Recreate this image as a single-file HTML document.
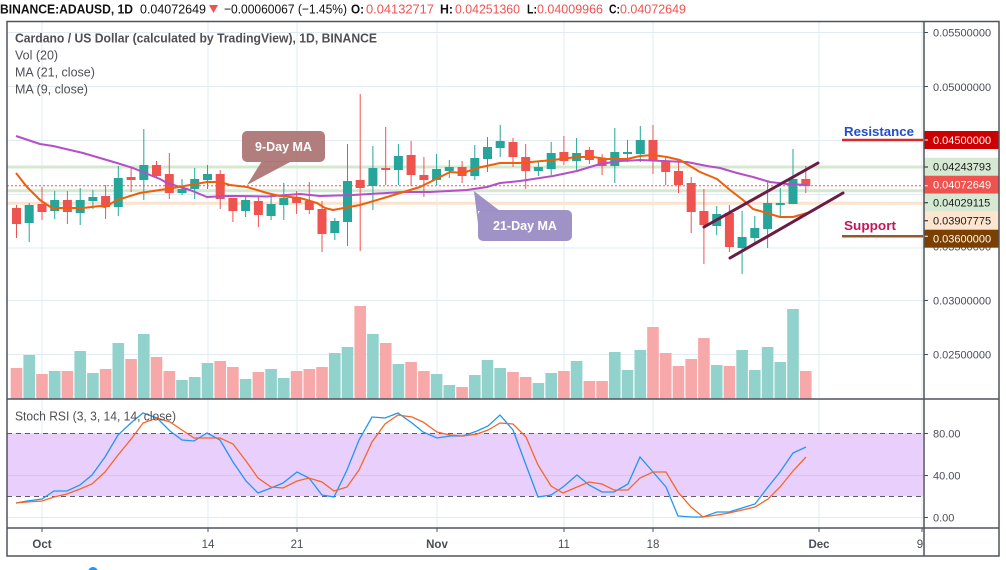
<!DOCTYPE html>
<html><head><meta charset="utf-8"><style>
html,body{margin:0;padding:0;background:#fff;}
svg{display:block;}
</style></head><body>
<svg width="1006" height="570" viewBox="0 0 1006 570" xmlns="http://www.w3.org/2000/svg" font-family="'Liberation Sans', sans-serif">
<rect width="1006" height="570" fill="#fff"/>

<!-- grid -->
<g stroke="#e2ebf2" stroke-width="1" fill="none">
<path d="M7 32.5H924M7 86.5H924M7 140.5H924M7 194.5H924M7 248H924M7 300.5H924M7 354.5H924M7 475.5H924M7 517.5H924"/>
<path d="M42 22V528M208 22V528M297 22V528M437 22V528M564 22V528M653 22V528M819 22V528M922 22V528"/>
</g>

<!-- stoch band -->
<rect x="7" y="433.3" width="916" height="63" fill="#e9cffc"/>
<path d="M7 475.5H923" stroke="#dcc0f2" stroke-width="1"/>
<g stroke="#5d5a6a" stroke-width="1" stroke-dasharray="5,4">
<path d="M7 433.5H923M7 496.5H923"/>
</g>

<!-- level lines -->
<path d="M7 167H924" stroke="#d5e8d0" stroke-width="3"/>
<path d="M7 190.7H924" stroke="#d5e8d0" stroke-width="3"/>
<path d="M7 203.3H924" stroke="#fbe3cf" stroke-width="3"/>
<path d="M7 185.7H924" stroke="#ef5350" stroke-width="1" stroke-dasharray="2,2"/>

<!-- volume -->
<g fill="#f6a9a8">
<rect x="10.7" y="368" width="11.6" height="31"/>
<rect x="36.2" y="374" width="11.6" height="25"/>
<rect x="61.6" y="371" width="11.6" height="28"/>
<rect x="99.8" y="369" width="11.6" height="30"/>
<rect x="125.3" y="359" width="11.6" height="40"/>
<rect x="150.7" y="357" width="11.6" height="42"/>
<rect x="163.5" y="371" width="11.6" height="28"/>
<rect x="214.4" y="361" width="11.6" height="38"/>
<rect x="227.1" y="367" width="11.6" height="32"/>
<rect x="252.6" y="372" width="11.6" height="27"/>
<rect x="290.8" y="371" width="11.6" height="28"/>
<rect x="303.5" y="369" width="11.6" height="30"/>
<rect x="316.2" y="367" width="11.6" height="32"/>
<rect x="354.4" y="306" width="11.6" height="93"/>
<rect x="379.9" y="343" width="11.6" height="56"/>
<rect x="405.3" y="362" width="11.6" height="37"/>
<rect x="418.1" y="371" width="11.6" height="28"/>
<rect x="456.3" y="387" width="11.6" height="12"/>
<rect x="507.2" y="372" width="11.6" height="27"/>
<rect x="519.9" y="377" width="11.6" height="22"/>
<rect x="558.1" y="371" width="11.6" height="28"/>
<rect x="583.6" y="381" width="11.6" height="18"/>
<rect x="596.3" y="381" width="11.6" height="18"/>
<rect x="647.2" y="327" width="11.6" height="72"/>
<rect x="659.9" y="353" width="11.6" height="46"/>
<rect x="672.7" y="366" width="11.6" height="33"/>
<rect x="685.4" y="359" width="11.6" height="40"/>
<rect x="698.1" y="338" width="11.6" height="61"/>
<rect x="723.6" y="366" width="11.6" height="33"/>
<rect x="800.0" y="371" width="11.6" height="28"/>
</g>
<g fill="#92d2cc">
<rect x="23.4" y="355" width="11.6" height="44"/>
<rect x="48.9" y="371" width="11.6" height="28"/>
<rect x="74.4" y="351" width="11.6" height="48"/>
<rect x="87.1" y="373" width="11.6" height="26"/>
<rect x="112.5" y="343" width="11.6" height="56"/>
<rect x="138.0" y="334" width="11.6" height="65"/>
<rect x="176.2" y="380" width="11.6" height="19"/>
<rect x="188.9" y="377" width="11.6" height="22"/>
<rect x="201.7" y="363" width="11.6" height="36"/>
<rect x="239.8" y="379" width="11.6" height="20"/>
<rect x="265.3" y="369" width="11.6" height="30"/>
<rect x="278.0" y="378" width="11.6" height="21"/>
<rect x="329.0" y="353" width="11.6" height="46"/>
<rect x="341.7" y="347" width="11.6" height="52"/>
<rect x="367.1" y="334" width="11.6" height="65"/>
<rect x="392.6" y="364" width="11.6" height="35"/>
<rect x="430.8" y="374" width="11.6" height="25"/>
<rect x="443.5" y="385" width="11.6" height="14"/>
<rect x="469.0" y="375" width="11.6" height="24"/>
<rect x="481.7" y="360" width="11.6" height="39"/>
<rect x="494.4" y="368" width="11.6" height="31"/>
<rect x="532.6" y="383" width="11.6" height="16"/>
<rect x="545.4" y="373" width="11.6" height="26"/>
<rect x="570.8" y="361" width="11.6" height="38"/>
<rect x="609.0" y="352" width="11.6" height="47"/>
<rect x="621.7" y="370" width="11.6" height="29"/>
<rect x="634.5" y="350" width="11.6" height="49"/>
<rect x="710.9" y="365" width="11.6" height="34"/>
<rect x="736.3" y="350" width="11.6" height="49"/>
<rect x="749.0" y="370" width="11.6" height="29"/>
<rect x="761.8" y="347" width="11.6" height="52"/>
<rect x="774.5" y="362" width="11.6" height="37"/>
<rect x="787.2" y="309" width="11.6" height="90"/>
</g>

<!-- candles red -->
<path stroke="#ef5350" stroke-width="1" fill="none" d="M16.5 205V238M42 187V220M67.4 191V224M105.6 185V219M131.1 167V192M156.5 161V178M169.3 153V199M220.2 170V209M232.9 198V222M258.4 197V227M296.6 191V214M309.3 182V214M322 201V252M360.2 94V251M385.7 127V185M411.1 141V186M423.9 157V197M462.1 161V183M513 138V167M525.7 144V189M563.9 136V165M589.4 147V164M602.1 154V175M653 125V174M665.7 157V185M678.5 162V193M691.2 177V233M703.9 189V264M729.4 205V252M805.8 166V193"/>
<g fill="#ef5350">
<rect x="12" y="208" width="9" height="16"/>
<rect x="37.5" y="204" width="9" height="8"/>
<rect x="62.9" y="200" width="9" height="12"/>
<rect x="101.1" y="196" width="9" height="11"/>
<rect x="126.6" y="177" width="9" height="3"/>
<rect x="152" y="165" width="9" height="11"/>
<rect x="164.8" y="174" width="9" height="19"/>
<rect x="215.7" y="174" width="9" height="25"/>
<rect x="228.4" y="198" width="9" height="13"/>
<rect x="253.9" y="201" width="9" height="14"/>
<rect x="292.1" y="198" width="9" height="5"/>
<rect x="304.8" y="201" width="9" height="9"/>
<rect x="317.5" y="209" width="9" height="25"/>
<rect x="355.7" y="180" width="9" height="8"/>
<rect x="381.2" y="168" width="9" height="2"/>
<rect x="406.6" y="155" width="9" height="20"/>
<rect x="419.4" y="175" width="9" height="5"/>
<rect x="457.6" y="167" width="9" height="9"/>
<rect x="508.5" y="142" width="9" height="15"/>
<rect x="521.2" y="157" width="9" height="14"/>
<rect x="559.4" y="152" width="9" height="9"/>
<rect x="584.9" y="150" width="9" height="10"/>
<rect x="597.6" y="158" width="9" height="8"/>
<rect x="648.5" y="140" width="9" height="21"/>
<rect x="661.2" y="161" width="9" height="11"/>
<rect x="674" y="171" width="9" height="14"/>
<rect x="686.7" y="183" width="9" height="29"/>
<rect x="699.4" y="211" width="9" height="14"/>
<rect x="724.9" y="213" width="9" height="34"/>
<rect x="801.3" y="179" width="9" height="7"/>
</g>
<!-- candles green -->
<path stroke="#26a69a" stroke-width="1" fill="none" d="M29.2 203V242M54.7 191V219M80.2 188V225M92.9 190V209M118.3 166V216M143.8 129V200M182 179V195M194.7 168V199M207.5 165V189M245.6 196V217M271.1 193V220M283.8 183V220M334.8 218V240M347.5 144V246M372.9 146V210M398.4 144V185M436.6 154V185M449.3 160V178M474.8 145V180M487.5 137V172M500.2 125V157M538.4 161V176M551.2 142V175M576.6 138V170M614.8 128V183M627.5 140V162M640.3 126V162M716.7 206V235M742.1 211V274M754.8 216V243M767.6 181V248M780.3 188V217M793 149V204"/>
<g fill="#26a69a">
<rect x="24.7" y="205" width="9" height="18"/>
<rect x="50.2" y="200" width="9" height="11"/>
<rect x="75.7" y="200" width="9" height="13"/>
<rect x="88.4" y="197" width="9" height="4"/>
<rect x="113.8" y="178" width="9" height="29"/>
<rect x="139.3" y="165" width="9" height="15"/>
<rect x="177.5" y="189" width="9" height="4"/>
<rect x="190.2" y="179" width="9" height="10"/>
<rect x="203" y="174" width="9" height="6"/>
<rect x="241.1" y="200" width="9" height="11"/>
<rect x="266.6" y="204" width="9" height="12"/>
<rect x="279.3" y="198" width="9" height="7"/>
<rect x="330.3" y="221" width="9" height="12"/>
<rect x="343" y="181" width="9" height="41"/>
<rect x="368.4" y="168" width="9" height="18"/>
<rect x="393.9" y="156" width="9" height="14"/>
<rect x="432.1" y="169" width="9" height="11"/>
<rect x="444.8" y="167" width="9" height="4"/>
<rect x="470.3" y="158" width="9" height="18"/>
<rect x="483" y="147" width="9" height="12"/>
<rect x="495.7" y="141" width="9" height="7"/>
<rect x="533.9" y="167" width="9" height="4"/>
<rect x="546.7" y="153" width="9" height="16"/>
<rect x="572.1" y="153" width="9" height="8"/>
<rect x="610.3" y="152" width="9" height="14"/>
<rect x="623" y="152" width="9" height="2"/>
<rect x="635.8" y="140" width="9" height="14"/>
<rect x="712.2" y="214" width="9" height="12"/>
<rect x="737.6" y="237" width="9" height="11"/>
<rect x="750.3" y="228" width="9" height="10"/>
<rect x="763.1" y="203" width="9" height="26"/>
<rect x="775.8" y="203" width="9" height="2"/>
<rect x="788.5" y="179" width="9" height="25"/>
</g>

<!-- MA lines -->
<polyline fill="none" stroke="#b44fc8" stroke-width="2" stroke-linejoin="round" points="16,136 40,144 53,146 83,153 117,163 133,168 150,175 160,179 167,183 190,190 207,197 227,196 240,196 267,196.5 300,194 320,196 353,195 403,192 430,192 467,190 487,187 500,183 520,181 553,176 577,171 600,164 620,161 640,160 663,161 687,162 707,166 720,168 737,173 753,177 770,182 787,184 807,185"/>
<polyline fill="none" stroke="#ef5f0a" stroke-width="2" stroke-linejoin="round" points="16,173 27,187 40,200 52,208 67,208 83,208 100,206 105,207 117,200 140,193 160,190 173,188 190,185 207,182 220,182 230,185 247,187 267,193 280,196 300,198 317,203 325,208 333,210 360,205 387,197 420,187 450,172 463,173 477,168 500,163 520,163 553,160 577,157 593,157 607,159 627,159 640,156 653,155 667,157 680,160 700,172 717,179 730,190 743,200 753,209 767,213 780,217 793,217 807,213"/>

<!-- channel lines -->
<g stroke="#6b1c44" stroke-width="3" stroke-linecap="round">
<path d="M704 227L818 163"/>
<path d="M730 258L843 193"/>
</g>

<!-- resistance / support -->
<path d="M842 140H923" stroke="#d82a2a" stroke-width="2.5"/>
<path d="M842 236.3H923" stroke="#8e5a2e" stroke-width="2.5"/>
<text x="844" y="136" font-size="13" font-weight="bold" fill="#1e50c8" textLength="70" lengthAdjust="spacingAndGlyphs">Resistance</text>
<text x="844" y="230" font-size="13" font-weight="bold" fill="#c2185b" textLength="52" lengthAdjust="spacingAndGlyphs">Support</text>

<!-- callouts -->
<g fill="#ad7676" fill-opacity="0.95">
<rect x="242" y="131" width="83" height="31" rx="5"/>
<polygon points="262,161 292,161 247,185"/>
</g>
<text x="283.5" y="151" font-size="12.5" font-weight="bold" fill="#fff" text-anchor="middle">9-Day MA</text>
<g fill="#9a8cc4" fill-opacity="0.95">
<rect x="478" y="210" width="94" height="31" rx="5"/>
<polygon points="478,224 478,211 500,211 474,191"/>
</g>
<text x="525" y="230" font-size="12.5" font-weight="bold" fill="#fff" text-anchor="middle">21-Day MA</text>

<!-- stoch lines -->
<polyline fill="none" stroke="#2196f3" stroke-width="1.3" points="16,503 27,501 42,499 54,491 67,491 80,485 92,475 105,457 118,435 132,422 143,413 157,418 170,431 182,440 194,441 207,433 220,440 233,462 246,481 258,493 271,488 283,483 297,472 309,478 322,495 334,497 347,470 359,440 372,417 385,418 398,413 412,423 423,432 437,438 450,436 463,436 477,431 488,426 500,415 513,430 526,465 538,497 551,495 563,487 577,475 589,485 602,492 614,492 628,484 640,457 653,472 666,487 678,516 691,517 703,517 717,512 729,512 742,508 755,504 768,487 780,472 793,453 806,447"/>
<polyline fill="none" stroke="#f4672a" stroke-width="1.3" points="16,503 27,502 42,501 54,497 67,494 80,489 92,484 105,472 118,455 132,438 143,423 157,418 170,422 182,430 194,438 207,438 220,438 233,444 246,461 258,478 271,487 283,488 297,481 309,478 322,482 334,491 347,487 359,470 372,442 385,424 398,415 412,417 423,422 437,432 450,435 463,436 477,434 488,430 500,423 513,424 526,437 538,465 551,486 563,493 577,487 589,482 602,484 614,490 628,490 640,478 653,472 666,472 678,492 691,507 703,517 717,515 729,513 742,510 755,507 768,499 780,487 793,471 806,457"/>

<!-- price axis labels -->
<g font-size="11" fill="#4a4d57">
<text x="933" y="36.5">0.05500000</text>
<text x="933" y="91">0.05000000</text>
<text x="933" y="250.5">0.03500000</text>
<text x="933" y="304.5">0.03000000</text>
<text x="933" y="358.5">0.02500000</text>
</g>
<g stroke="#4a4d57" stroke-width="1"><path d="M924 32.5H928M924 86.5H928M924 300.5H928M924 354.5H928"/></g>

<rect x="924" y="131" width="75" height="18" fill="#cc0000"/>
<rect x="924" y="157.7" width="75" height="18" fill="#d6e9d3"/>
<rect x="924" y="175.7" width="75" height="18" fill="#ef5350"/>
<rect x="924" y="193.7" width="75" height="18" fill="#d6e9d3"/>
<rect x="924" y="211.7" width="75" height="18" fill="#fde5cf"/>
<rect x="924" y="229.7" width="75" height="18" fill="#7b3f00"/>
<g font-size="11">
<text x="933" y="144" fill="#fff">0.04500000</text>
<text x="933" y="170.7" fill="#1a1a1a">0.04243793</text>
<text x="933" y="188.7" fill="#fff">0.04072649</text>
<text x="933" y="206.7" fill="#1a1a1a">0.04029115</text>
<text x="933" y="224.7" fill="#1a1a1a">0.03907775</text>
<text x="933" y="242.7" fill="#fff">0.03600000</text>
</g>
<path d="M924 140H928M924 236.3H928M924 185.7H928" stroke="#fff" stroke-width="1"/>
<path d="M924 167H928M924 202.7H928M924 220.7H928" stroke="#1a1a1a" stroke-width="1"/>

<!-- stoch axis labels -->
<g font-size="11" fill="#4a4d57">
<text x="933" y="437.5">80.00</text>
<text x="933" y="479.5">40.00</text>
<text x="933" y="521.5">0.00</text>
</g>
<path d="M924 433.5H928M924 475.5H928M924 517.5H928" stroke="#4a4d57" stroke-width="1"/>

<!-- frame -->
<g stroke="#50535e" stroke-width="1.5" fill="none">
<path d="M7 21.5H999V556H7Z"/>
<path d="M924 21.5V556"/>
<path d="M7 399H999"/>
<path d="M7 528H999"/>
</g>
<path d="M42 528V532M208 528V532M297 528V532M437 528V532M564 528V532M653 528V532M819 528V532M922 528V532" stroke="#50535e" stroke-width="1"/>

<!-- time labels -->
<g font-size="11.5" fill="#4a4d57" text-anchor="middle">
<text x="42" y="548" font-weight="bold">Oct</text>
<text x="208" y="548">14</text>
<text x="297" y="548">21</text>
<text x="437" y="548" font-weight="bold">Nov</text>
<text x="564" y="548">11</text>
<text x="653" y="548">18</text>
<text x="819" y="548" font-weight="bold">Dec</text>
<text x="920" y="548">9</text>
</g>

<!-- legend -->
<g font-size="12.5" fill="#4f4f55">
<text x="15" y="42.5" font-weight="bold" textLength="362" lengthAdjust="spacingAndGlyphs">Cardano / US Dollar (calculated by TradingView), 1D, BINANCE</text>
<text x="15" y="59.5">Vol (20)</text>
<text x="15" y="76.5">MA (21, close)</text>
<text x="15" y="93.5">MA (9, close)</text>
<text x="15" y="420.5" textLength="161" lengthAdjust="spacingAndGlyphs">Stoch RSI (3, 3, 14, 14, close)</text>
</g>

<!-- header -->
<g font-size="13">
<text x="0" y="13.5" font-weight="bold" fill="#111" textLength="133" lengthAdjust="spacingAndGlyphs">BINANCE:ADAUSD, 1D</text>
<text x="140" y="13.5" fill="#111" textLength="66" lengthAdjust="spacingAndGlyphs">0.04072649</text>
<text x="224" y="13.5" fill="#111" textLength="123" lengthAdjust="spacingAndGlyphs">−0.00060067 (−1.45%)</text>
<text x="351" y="13.5" font-weight="bold" fill="#111" textLength="13" lengthAdjust="spacingAndGlyphs">O:</text>
<text x="366" y="13.5" fill="#ef5350" textLength="68" lengthAdjust="spacingAndGlyphs">0.04132717</text>
<text x="440" y="13.5" font-weight="bold" fill="#111" textLength="13" lengthAdjust="spacingAndGlyphs">H:</text>
<text x="455" y="13.5" fill="#ef5350" textLength="65" lengthAdjust="spacingAndGlyphs">0.04251360</text>
<text x="527" y="13.5" font-weight="bold" fill="#111" textLength="10" lengthAdjust="spacingAndGlyphs">L:</text>
<text x="537" y="13.5" fill="#ef5350" textLength="66" lengthAdjust="spacingAndGlyphs">0.04009966</text>
<text x="609" y="13.5" font-weight="bold" fill="#111" textLength="11" lengthAdjust="spacingAndGlyphs">C:</text>
<text x="620" y="13.5" fill="#ef5350" textLength="66" lengthAdjust="spacingAndGlyphs">0.04072649</text>
</g>
<polygon points="209,5 218,5 213.5,13" fill="#ef5350"/>

<circle cx="93" cy="572" r="5" fill="#2196f3"/>
</svg>
</body></html>
